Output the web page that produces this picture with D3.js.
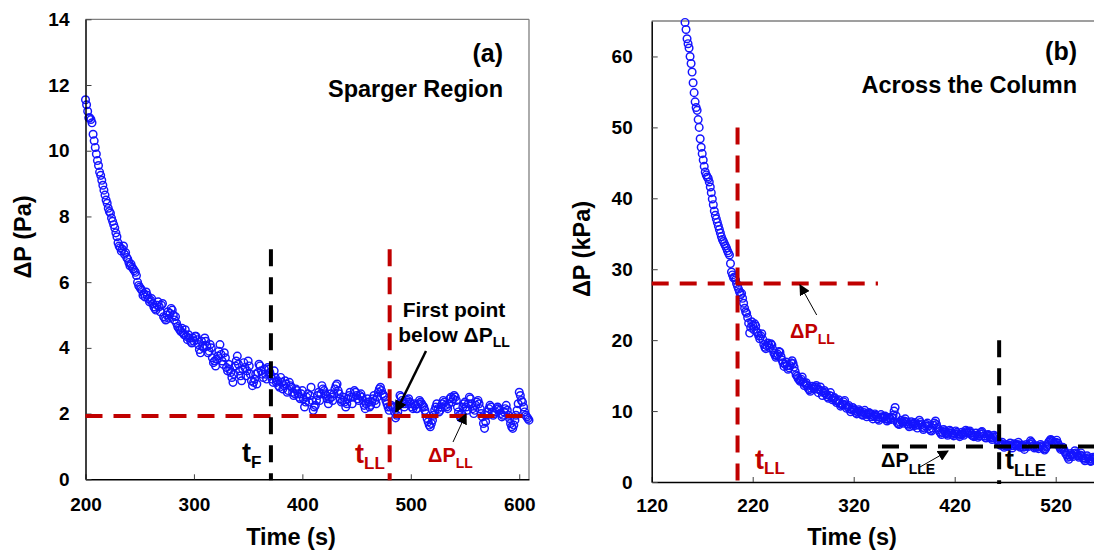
<!DOCTYPE html>
<html><head><meta charset="utf-8">
<script src="https://cdnjs.cloudflare.com/ajax/libs/d3/7.8.5/d3.min.js"></script>
<style>body{margin:0;background:#fff}svg{display:block}text{font-family:"Liberation Sans",Arial,sans-serif;font-weight:bold}</style>
</head><body><svg id="c" width="1094" height="550"></svg>
<script>
// ---------- DATA ----------
// Panel (a): Sparger region, sampled every 1 s starting at 200 s (Pa)
const startA = 200, stepA = 1;
const dpA = [
11.55,11.4,11.2,11.0,11.0,10.95,10.85,10.5,10.3,10.1,
9.9,9.7,9.55,9.35,9.25,9.1,8.95,8.8,8.65,8.5,
8.4,8.25,8.15,8.1,7.95,7.85,7.75,7.65,7.5,7.38,
7.2,7.1,7.05,6.95,7.0,7.1,6.85,6.9,6.75,6.7,
6.6,6.5,6.55,6.45,6.4,6.35,6.3,6.2,6.0,5.9,
5.85,5.8,5.75,5.6,5.65,5.55,5.7,5.6,5.5,5.4,
5.45,5.5,5.35,5.25,5.2,5.15,5.3,5.4,5.25,5.1,
5.3,5.35,4.95,4.9,4.85,5.0,5.1,4.9,5.05,5.2,
5.15,5.0,4.85,4.95,4.75,4.65,4.6,4.55,4.5,4.6,
4.45,4.4,4.55,4.35,4.25,4.4,4.3,4.2,4.15,4.3,
4.2,4.35,4.35,4.25,4.1,3.95,3.85,4.2,4.05,4.0,
4.3,4.2,4.05,3.85,3.9,4.1,4.0,3.7,3.55,3.6,
3.45,3.65,3.75,3.9,4.1,3.8,3.6,3.5,3.85,3.7,
3.4,3.3,3.5,3.35,3.25,3.1,2.95,3.2,3.45,3.6,
3.75,3.5,3.3,3.15,3.0,3.35,3.55,3.4,3.15,3.3,
3.6,3.45,3.2,3.0,2.85,2.95,3.05,3.2,2.9,3.25,
3.5,3.45,3.3,3.2,3.1,3.35,3.2,3.05,3.4,3.35,
3.25,3.15,3.05,2.95,3.3,3.1,2.95,3.0,2.85,2.8,
3.1,2.95,2.75,2.85,3.0,2.9,2.65,2.7,2.95,2.85,
2.8,2.65,2.55,2.6,2.75,2.7,2.6,2.5,2.45,2.6,
2.7,2.45,2.2,2.35,2.5,2.6,2.35,2.55,2.8,2.4,
2.1,2.2,2.25,2.4,2.55,2.65,2.4,2.6,2.85,2.75,
2.7,2.6,2.55,2.45,2.3,2.45,2.6,2.5,2.4,2.6,
2.75,2.85,2.9,2.7,2.6,2.45,2.35,2.4,2.5,2.35,
2.2,2.3,2.45,2.55,2.65,2.5,2.3,2.5,2.7,2.65,
2.55,2.45,2.4,2.55,2.6,2.5,2.4,2.25,2.15,2.3,
2.45,2.35,2.2,2.25,2.35,2.45,2.55,2.4,2.3,2.5,
2.65,2.75,2.8,2.7,2.6,2.55,2.5,2.4,2.3,2.2,
2.1,2.2,2.25,2.2,2.2,2.05,1.87,1.95,2.05,2.3,
2.55,2.5,2.4,2.3,2.2,2.3,2.35,2.4,2.45,2.35,
2.3,2.2,2.15,2.3,2.25,2.15,2.15,2.3,2.4,2.35,
2.3,2.25,2.2,2.1,2.0,1.85,1.75,1.65,1.6,1.7,
1.8,1.95,2.1,2.2,2.3,2.15,2.05,2.1,2.2,2.3,
2.4,2.35,2.25,2.2,2.15,2.3,2.45,2.5,2.35,2.45,
2.55,2.5,2.4,2.2,2.05,1.95,1.87,2.0,2.2,2.3,
2.35,2.2,2.1,2.3,2.5,2.45,2.3,2.15,2.0,2.1,
2.25,2.35,2.4,2.3,2.15,2.0,1.9,1.7,1.55,1.75,
1.95,2.05,2.15,2.25,2.2,2.05,1.95,2.0,2.05,2.15,
2.2,2.15,2.1,2.0,1.9,1.95,2.05,2.15,2.25,2.1,
1.95,1.85,1.7,1.6,1.55,1.65,1.8,1.95,2.1,2.3,
2.65,2.55,2.4,2.35,2.2,2.05,1.95,1.9,1.85,1.8];
// Panel (b): across the column, sampled every 1 s starting at 153 s (kPa)
const startB = 153, stepB = 1;
const dpB = [
64.8,63.8,62.5,61.8,61.2,60.0,59.0,57.8,56.3,54.9,
53.6,52.8,52.4,51.1,50.0,48.4,47.2,46.3,45.4,44.5,
43.7,43.3,43.0,42.8,42.3,41.6,40.8,39.9,39.1,38.2,
37.6,37.1,36.6,36.1,35.6,35.1,34.6,34.2,33.9,33.6,
33.3,33.0,32.6,32.3,32.0,30.8,29.6,29.2,28.8,28.9,
28.5,28.0,27.6,27.2,26.8,26.4,26.6,25.9,25.2,24.5,
24.0,23.8,23.2,22.4,21.0,21.8,22.6,22.1,21.5,22.3,
22.0,21.2,21.0,20.6,20.2,20.6,20.9,20.1,19.4,19.0,
18.8,19.2,19.6,19.3,18.9,19.5,19.3,18.7,18.2,17.9,
17.6,17.8,18.0,18.4,18.3,17.7,17.2,16.8,16.3,16.6,
16.9,16.4,15.9,16.1,16.4,16.8,17.1,16.7,16.2,15.6,
15.1,14.9,14.6,14.4,14.2,14.5,14.8,14.1,13.6,13.8,
14.0,13.6,13.2,13.0,12.8,13.2,13.5,13.3,13.1,13.4,
13.6,13.1,12.6,13.0,13.4,12.8,12.2,12.6,12.9,12.6,
12.3,12.0,11.8,12.2,12.6,12.1,11.6,11.8,11.9,11.5,
11.2,11.4,11.6,11.1,10.7,10.9,11.0,11.3,11.5,10.9,
10.4,10.6,10.8,10.3,9.9,10.2,10.5,10.3,10.1,9.8,
9.6,9.9,10.2,10.0,9.7,9.5,9.4,9.8,10.1,9.6,
9.2,9.5,9.8,9.7,9.5,9.2,8.9,9.3,9.6,9.4,
9.2,8.9,8.7,9.1,9.5,9.2,9.0,9.2,9.3,8.9,
8.6,8.8,9.1,8.9,8.8,9.1,9.4,10.0,10.5,9.3,
8.4,8.2,8.1,8.4,8.7,8.5,8.3,8.6,8.9,8.5,
8.2,8.0,7.8,8.2,8.5,8.2,7.9,8.2,8.4,8.0,
7.6,8.1,8.7,8.4,8.1,7.7,7.4,7.6,7.9,8.1,
8.3,7.9,7.5,7.3,7.2,7.6,8.0,8.3,8.6,8.1,
7.7,7.4,7.1,6.9,6.7,7.0,7.4,7.2,7.0,6.8,
6.6,6.9,7.3,7.1,6.9,6.7,6.5,6.8,7.2,7.0,
6.8,6.6,6.4,6.7,7.0,6.8,6.6,6.9,7.3,7.1,
6.9,7.1,7.2,6.9,6.6,6.5,6.4,6.6,6.9,6.6,
6.3,6.5,6.8,7.0,7.1,6.8,6.5,6.3,6.2,6.5,
6.7,6.6,6.4,6.2,6.0,6.3,6.6,6.4,6.3,6.0,
5.7,5.4,5.2,5.4,5.6,5.2,4.9,5.1,5.3,5.1,
5.0,5.2,5.5,5.1,4.8,5.1,5.4,5.2,5.1,5.3,
5.6,5.2,4.9,5.0,5.2,4.9,4.6,5.0,5.3,5.1,
5.0,5.4,5.8,5.6,5.4,5.1,4.8,4.9,5.1,4.9,
4.7,5.0,5.3,5.1,4.9,4.7,4.5,4.7,5.0,5.3,
5.6,5.8,6.0,5.9,5.7,5.5,5.4,5.6,5.9,5.5,
5.2,4.9,4.6,4.7,4.9,4.6,4.3,4.0,3.8,3.5,
3.2,3.6,4.0,3.8,3.6,4.0,4.4,4.1,3.9,3.7,
3.5,3.8,4.1,3.7,3.4,3.2,3.0,3.3,3.7,3.4,
3.2,3.0,2.9,3.2,3.5,3.4,3.3,3.1];
const xTicksA = [200,300,400,500,600];
const yTicksA = [0,2,4,6,8,10,12,14];
const xTicksB = [120,220,320,420,520];
const yTicksB = [0,10,20,30,40,50,60];
// reference markers
const tF = 371, tLL_A = 480.5, dpLL_A = 1.93;
const tLL_B = 205, dpLL_B = 28, tLLE = 464, dpLLE = 5.0;

// ---------- DRAW ----------
const svg = d3.select('#c');
const blue = '#1414ff', red = '#c00000';
const defs = svg.append('defs');
defs.append('marker').attr('id','ah').attr('viewBox','0 0 10 10').attr('refX',9).attr('refY',5)
  .attr('markerWidth',5).attr('markerHeight',5).attr('markerUnits','strokeWidth').attr('orient','auto')
  .append('path').attr('d','M0,0L10,5L0,10z').attr('fill','#000');
defs.append('marker').attr('id','ah2').attr('viewBox','0 0 10 10').attr('refX',9).attr('refY',5)
  .attr('markerWidth',11).attr('markerHeight',11).attr('markerUnits','userSpaceOnUse').attr('orient','auto')
  .append('path').attr('d','M0,0L10,5L0,10z').attr('fill','#000');

function panel(o){
  const g = svg.append('g');
  const x = d3.scaleLinear().domain(o.xd).range(o.xr);
  const y = d3.scaleLinear().domain(o.yd).range(o.yr);
  g.append('line').attr('x1',o.xr[0]).attr('x2',Math.min(o.xr[1],1094)).attr('y1',o.yr[1]).attr('y2',o.yr[1]).attr('stroke','#7f7f7f').attr('stroke-width',1.3);
  if(o.xr[1] < 1094) g.append('line').attr('x1',o.xr[1]).attr('x2',o.xr[1]).attr('y1',o.yr[1]).attr('y2',o.yr[0]).attr('stroke','#7f7f7f').attr('stroke-width',1.3);
  const pts = o.vals.map((v,i)=>({t:o.t0+i*o.step, v}));
  g.append('g').selectAll('circle').data(pts).join('circle')
    .attr('cx',d=>x(d.t)).attr('cy',d=>y(d.v)).attr('r',3.8)
    .attr('fill','none').attr('stroke',blue).attr('stroke-width',1.45);
  const ax = g.append('g').attr('transform',`translate(0,${o.yr[0]})`)
    .call(d3.axisBottom(x).tickValues(o.xt).tickSizeInner(-5).tickSizeOuter(0).tickPadding(o.xpad));
  const ay = g.append('g').attr('transform',`translate(${o.xr[0]},0)`)
    .call(d3.axisLeft(y).tickValues(o.yt).tickSizeInner(-6).tickSizeOuter(0).tickPadding(o.ypad));
  [ax,ay].forEach(a=>{
    a.select('.domain').attr('stroke','#000').attr('stroke-width',1.5);
    a.selectAll('.tick line').attr('stroke','#404040').attr('stroke-width',1);
    a.selectAll('text').attr('font-size',19).attr('fill','#000').style('font-weight','bold');
  });
  return {g,x,y};
}

function dashed(g,x1,y1,x2,y2,color){
  g.append('line').attr('x1',x1).attr('y1',y1).attr('x2',x2).attr('y2',y2)
   .attr('stroke',color).attr('stroke-width',4).attr('stroke-dasharray','17,11');
}
function label(x,y,main,sub,size,subSize,color,anchor,subDy){
  const t = svg.append('text').attr('x',x).attr('y',y).attr('fill',color).attr('text-anchor',anchor||'start');
  t.append('tspan').attr('font-size',size).text(main);
  if(sub) t.append('tspan').attr('font-size',subSize).attr('dy',subDy).text(sub);
  return t;
}
function arrow(x1,y1,x2,y2,w,mk){
  svg.append('line').attr('x1',x1).attr('y1',y1).attr('x2',x2).attr('y2',y2)
    .attr('stroke','#000').attr('stroke-width',w).attr('marker-end',`url(#${mk})`);
}

// Panel (a)
const A = panel({xd:[200,609], xr:[85.5,529], yd:[0,14], yr:[479.3,19.3],
  vals:dpA, t0:startA, step:stepA, xt:xTicksA, yt:yTicksA, xpad:18, ypad:16});
dashed(A.g, A.x(200), A.y(dpLL_A), A.x(609), A.y(dpLL_A), red);
dashed(A.g, A.x(tF), A.y(7), A.x(tF), A.y(0)+1, '#000');
dashed(A.g, A.x(tLL_A), A.y(7), A.x(tLL_A), A.y(0)+1, red);

// Panel (b)
const B = panel({xd:[120,620], xr:[651.7,1156.7], yd:[0,65], yr:[482,21],
  vals:dpB, t0:startB, step:stepB, xt:xTicksB, yt:yTicksB, xpad:17, ypad:19});
dashed(B.g, B.x(120), B.y(dpLL_B), B.x(344), B.y(dpLL_B), red);
dashed(B.g, B.x(tLL_B), B.y(50), B.x(tLL_B), B.y(0)+3, red);
dashed(B.g, B.x(348), B.y(dpLLE), 1094, B.y(dpLLE), '#000');
dashed(B.g, B.x(tLLE), B.y(20), B.x(tLLE), B.y(0)+2, '#000');

// axis titles
svg.append('text').attr('x',291).attr('y',545).attr('text-anchor','middle').attr('font-size',23.5).text('Time (s)');
svg.append('text').attr('x',852).attr('y',545).attr('text-anchor','middle').attr('font-size',23.5).text('Time (s)');
svg.append('text').attr('transform','translate(31,237) rotate(-90)').attr('text-anchor','middle').attr('font-size',23.5).text('ΔP (Pa)');
svg.append('text').attr('transform','translate(590,249) rotate(-90)').attr('text-anchor','middle').attr('font-size',23.5).text('ΔP (kPa)');

// panel titles
svg.append('text').attr('x',503).attr('y',62).attr('text-anchor','end').attr('font-size',25).text('(a)');
svg.append('text').attr('x',503).attr('y',96.5).attr('text-anchor','end').attr('font-size',23.5).text('Sparger Region');
svg.append('text').attr('x',1077).attr('y',60).attr('text-anchor','end').attr('font-size',25).text('(b)');
svg.append('text').attr('x',1077).attr('y',93).attr('text-anchor','end').attr('font-size',23.5).text('Across the Column');

// annotations (a)
label(242,462,'t','F',27,17,'#000','start',6);
label(355,463,'t','LL',27,17,red,'start',6);
svg.append('text').attr('x',454).attr('y',317).attr('text-anchor','middle').attr('font-size',21).text('First point');
label(454,342,'below ΔP','LL',21,14,'#000','middle',5);
arrow(426,351,396,412,2.5,'ah');
label(428,462,'ΔP','LL',20,14,red,'start',6);
arrow(453,442,466,414,1,'ah2');

// annotations (b)
label(755,469,'t','LL',27,17,red,'start',5);
label(790,338,'ΔP','LL',20,14,red,'start',6);
arrow(816.7,315,800,285,1,'ah2');
label(881,467,'ΔP','LLE',20,14,'#000','start',7);
arrow(920,467,948,451,1,'ah2');
label(1005,469,'t','LLE',27,17,'#000','start',7);
</script></body></html>
